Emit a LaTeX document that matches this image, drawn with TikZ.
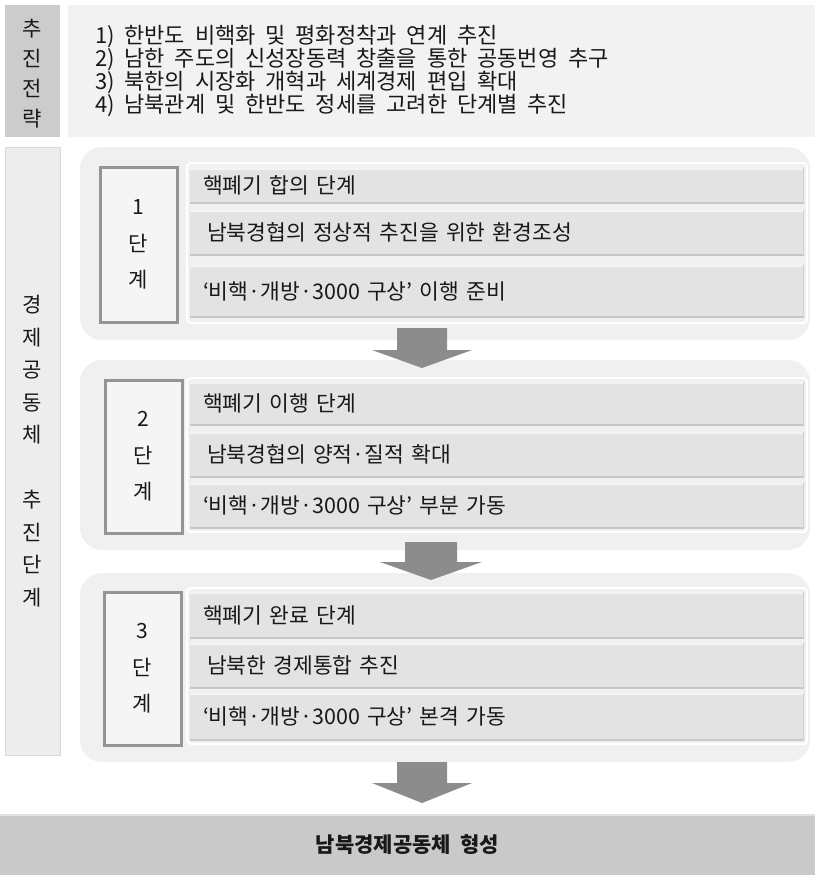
\documentclass[tikz,border=0pt]{standalone}
\usepackage{fontspec}
\setmainfont{Noto Sans CJK KR}[WordSpace=2.0]
\begin{document}
\begin{tikzpicture}[x=1pt,y=-1pt,
  every node/.style={inner sep=0pt, outer sep=0pt, text=black!90},
  box/.style={anchor=north west, draw=none},
  tlbox/.style={box, fill=black!20, minimum width=55pt, minimum height=132pt},
  trbox/.style={box, fill=black!5, minimum width=747pt, minimum height=132pt},
  sidebox/.style={box, fill=black!7, draw=black!15, line width=0.8pt, minimum width=55pt, minimum height=608pt},
  stagebox/.style={box, fill=black!6, rounded corners=22pt, minimum width=730pt},
  innerframe/.style={box, draw=white, line width=2pt, rounded corners=4pt, minimum width=620pt},
  numbox/.style={box, draw=black!42, line width=3pt, fill=black!4, minimum width=77pt, align=center,
    font=\fontsize{21}{36.5}\selectfont},
  strip/.style={box, fill=black!11, minimum width=614pt, text width=588pt, inner xsep=13pt, align=left,
    font=\fontsize{21.5}{24}\selectfont,
    path picture={
      \draw[white!60!black!11, line width=3pt] (path picture bounding box.north west) -- (path picture bounding box.north east);
      \draw[black!22, line width=3pt] (path picture bounding box.south west) -- (path picture bounding box.south east);
      \draw[black!18, line width=2pt] (path picture bounding box.north east) -- (path picture bounding box.south east);}},
  stripin/.style={strip, text width=580pt, inner xsep=17pt},
  blockarrow/.style={fill=black!45, draw=none},
  bottombox/.style={box, fill=black!21, minimum width=815pt, minimum height=60pt}
]
\useasboundingbox (0,0) rectangle (815,878);

% top strategy
\node[tlbox] (tl) at (5,5) {};
\node[align=center, font=\fontsize{21}{30}\selectfont] (tltext) at (32.5,74) {추\\진\\전\\략};
\node[trbox] (tr) at (68,5) {};
\node[anchor=west, align=left, font=\fontsize{22}{23}\selectfont] (trtext) at (95,71) {1) 한반도 비핵화 및 평화정착과 연계 추진\\2) 남한 주도의 신성장동력 창출을 통한 공동번영 추구\\3) 북한의 시장화 개혁과 세계경제 편입 확대\\4) 남북관계 및 한반도 정세를 고려한 단계별 추진};

% side label
\node[sidebox] (side) at (5,147) {};
\node[align=center, font=\fontsize{21}{32.5}\selectfont] (sidetext) at (32.5,451) {경\\제\\공\\동\\체\\[32.5pt]추\\진\\단\\계};

% stage containers
\node[stagebox, minimum height=193pt] (s1) at (80,147) {};
\node[stagebox, minimum height=190pt] (s2) at (80,360) {};
\node[stagebox, minimum height=189pt] (s3) at (80,573) {};

\node[innerframe, minimum height=160pt] (f1) at (187,163) {};
\node[innerframe, minimum height=154pt] (f2) at (187,378) {};
\node[innerframe, minimum height=156pt] (f3) at (187,588) {};

% number boxes
\node[numbox, minimum height=155pt] (n1) at (100,167) {1\\단\\계};
\node[numbox, minimum height=153pt] (n2) at (105,380) {2\\단\\계};
\node[numbox, minimum height=153pt] (n3) at (104,592) {3\\단\\계};

% strips stage 1
\node[strip, minimum height=35pt] (a1) at (190,168) {핵폐기 합의 단계};
\node[stripin, minimum height=45pt] (a2) at (190,210) {남북경협의 정상적 추진을 위한 환경조성};
\node[strip, minimum height=52pt] (a3) at (190,265) {‘비핵·개방·3000 구상’ 이행 준비};
% strips stage 2
\node[strip, minimum height=43pt] (b1) at (190,382) {핵폐기 이행 단계};
\node[stripin, minimum height=45pt] (b2) at (190,432) {남북경협의 양적·질적 확대};
\node[strip, minimum height=45pt] (b3) at (190,483) {‘비핵·개방·3000 구상’ 부분 가동};
% strips stage 3
\node[strip, minimum height=46pt] (c1) at (190,592) {핵폐기 완료 단계};
\node[stripin, minimum height=45pt] (c2) at (190,643) {남북한 경제통합 추진};
\node[strip, minimum height=47pt] (c3) at (190,693) {‘비핵·개방·3000 구상’ 본격 가동};

% block arrows
\fill[blockarrow] (397,328) -- (447,328) -- (447,350) -- (472,350) -- (422,368) -- (372,350) -- (397,350) -- cycle;
\fill[blockarrow] (405,542) -- (457,542) -- (457,562) -- (482,562) -- (431,580) -- (380,562) -- (405,562) -- cycle;
\fill[blockarrow] (397,762) -- (447,762) -- (447,783) -- (472,783) -- (422,803) -- (372,783) -- (397,783) -- cycle;

% result
\node[bottombox] (res) at (0,815) {};
\draw[black!12, line width=2pt] (res.north west) -- (res.north east);
\node[font=\fontsize{21}{24}\selectfont\bfseries] (restext) at (res.center) {남북경제공동체 형성};
\end{tikzpicture}
\end{document}
